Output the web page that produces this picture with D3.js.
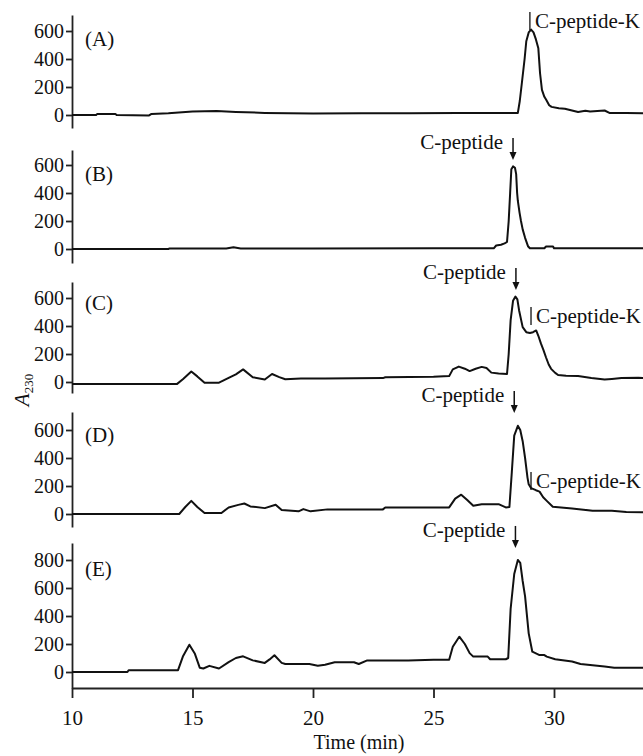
<!DOCTYPE html>
<html>
<head>
<meta charset="utf-8">
<script src="https://cdn.jsdelivr.net/npm/d3@7"></script>
<style>
  body { margin: 0; background: #fff; }
  svg { display: block; }
  text { font-family: 'Liberation Serif', 'Times New Roman', serif; fill: #111; }
</style>
</head>
<body>
<div id="app"></div>
<script>
// retention time (min) and A230 readings, one pair of arrays per run
const timeA = [10, 11, 11.05, 11.8, 11.85, 13.2, 13.3, 14, 15, 16, 16.8, 18, 20, 22, 24, 26, 28, 28.5, 28.58, 28.67, 28.78, 28.85, 28.95, 29.05, 29.15, 29.25, 29.35, 29.42, 29.5, 29.6, 29.67, 29.8, 29.9, 30.2, 30.45, 31, 31.3, 31.5, 32.1, 32.3, 33, 34]
const valA  = [0, 0, 8, 8, 0, -3, 8, 12, 25, 28, 22, 15, 10, 12, 12, 14, 15, 15, 100, 234, 400, 527, 590, 610, 590, 540, 476, 300, 180, 130, 110, 70, 58, 48, 44, 22, 30, 25, 32, 15, 14, 12]

const timeB = [10, 14, 14.05, 16.4, 16.7, 17, 20, 25, 27.5, 27.6, 27.8, 27.95, 28.05, 28.12, 28.18, 28.23, 28.3, 28.38, 28.43, 28.47, 28.5, 28.57, 28.63, 28.7, 28.8, 28.92, 29, 29.6, 29.67, 29.96, 30, 34]
const valB  = [0, 0, 4, 4, 12, 4, 4, 5, 5, 25, 30, 40, 50, 200, 400, 570, 590, 580, 535, 400, 343, 260, 200, 140, 80, 20, 5, 5, 18, 18, 5, 5]

const timeC = [10, 14.35, 14.6, 14.95, 15.2, 15.5, 16.1, 16.5, 16.8, 17.1, 17.5, 18, 18.3, 18.6, 18.85, 19.5, 20.5, 22.9, 23, 25, 25.65, 25.8, 26.05, 26.3, 26.5, 26.75, 27, 27.2, 27.4, 27.7, 28.05, 28.12, 28.2, 28.3, 28.4, 28.48, 28.55, 28.7, 28.85, 29, 29.13, 29.26, 29.35, 29.46, 29.56, 29.67, 29.78, 29.88, 30.05, 30.17, 30.5, 31, 31.55, 32.1, 32.4, 32.8, 33.5, 34]
const valC  = [-15, -15, 20, 75, 40, -5, -5, 30, 55, 90, 34, 18, 57, 35, 20, 25, 25, 28, 34, 38, 42, 90, 110, 95, 78, 95, 108, 100, 67, 60, 57, 200, 440, 580, 610, 590, 513, 392, 356, 350, 356, 368, 330, 274, 230, 175, 125, 94, 65, 50, 45, 43, 29, 18, 22, 28, 30, 28]

const timeD = [10, 14.45, 14.7, 14.95, 15.2, 15.5, 16.2, 16.5, 16.9, 17.15, 17.4, 18, 18.45, 18.7, 19.4, 19.6, 19.9, 20.6, 22.9, 23, 25.65, 25.9, 26.15, 26.4, 26.65, 27, 27.7, 28, 28.15, 28.25, 28.35, 28.5, 28.6, 28.7, 28.8, 28.9, 28.95, 29.05, 29.25, 29.4, 29.55, 29.7, 29.95, 30.75, 31.6, 32.4, 33, 34]
const valD  = [0, 0, 50, 94, 50, 7, 7, 47, 65, 75, 54, 42, 66, 28, 19, 35, 19, 33, 33, 47, 47, 110, 138, 100, 59, 70, 70, 47, 50, 300, 560, 630, 600, 520, 400, 260, 212, 185, 170, 160, 120, 94, 52, 40, 24, 24, 14, 12]

const timeE = [10, 12.3, 12.35, 14.4, 14.6, 14.87, 15.1, 15.3, 15.45, 15.7, 16.1, 16.5, 16.8, 17.1, 17.5, 18, 18.2, 18.4, 18.7, 18.85, 19.85, 20.2, 20.5, 20.9, 21.7, 21.9, 22.25, 23.95, 25, 25.65, 25.8, 26.07, 26.3, 26.5, 26.65, 27.25, 27.35, 28, 28.1, 28.2, 28.35, 28.5, 28.6, 28.7, 28.8, 28.95, 29.1, 29.4, 29.6, 29.7, 30.05, 30.75, 31.1, 31.6, 32.1, 32.5, 34]
const valE  = [0, 0, 13, 13, 110, 195, 130, 31, 25, 44, 25, 70, 100, 112, 83, 65, 90, 120, 65, 57, 57, 45, 52, 70, 70, 57, 83, 83, 88, 88, 180, 252, 200, 135, 110, 110, 91, 91, 100, 450, 700, 800, 780, 650, 540, 276, 145, 121, 121, 110, 91, 75, 57, 49, 39, 31, 31]

const panelLabels = ['(A)', '(B)', '(C)', '(D)', '(E)']
const yTicksSmall = [0, 200, 400, 600]
const yTicksE = [0, 200, 400, 600, 800]
const xTicks = [10, 15, 20, 25, 30]

// arrow "C-peptide" marks and bar "|C-peptide-K" marks: [panel, time, value at mark]
const arrowMarks = [[1, 28.3, 636], [2, 28.42, 657], [3, 28.35, 721], [4, 28.4, 886]]
const barMarks = [[0, 29.0, 607], [2, 29.15, 407], [3, 29.25, 171]]

const width = 643, height = 756
const k = 0.14 // px per absorbance unit

const svg = d3.select('#app')
    .append('svg')
    .attr('width', width)
    .attr('height', height)

const x = d3.scaleLinear()
    .domain([10, 34])
    .range([72, 72 + 24 * 24.1])

// zero line, px above zero, px below zero
const layout = [
    {zero: 115, up: 100, down: 13},
    {zero: 249, up: 99, down: 14},
    {zero: 382, up: 100, down: 11},
    {zero: 514, up: 102, down: 13},
    {zero: 672, up: 129, down: 16}
]
const labelY = [46, 181, 310, 442, 576]

const series = [
    [timeA, valA], [timeB, valB], [timeC, valC], [timeD, valD], [timeE, valE]
]

const yScales = layout.map(l => d3.scaleLinear()
    .domain([-l.down / k, l.up / k])
    .range([l.zero + l.down, l.zero - l.up]))

series.forEach((s, i) => {
    const y = yScales[i]
    const g = svg.append('g')

    const axis = d3.axisLeft(y)
        .tickValues(i === 4 ? yTicksE : yTicksSmall)
        .tickSize(6)
        .tickSizeOuter(0)
        .tickPadding(2)

    g.append('g')
        .attr('transform', 'translate(' + x(10) + ',0)')
        .call(axis)
        .call(a => a.selectAll('path, line').attr('stroke', '#222').attr('stroke-width', 1.8))
        .call(a => a.selectAll('text').style('font-size', '20px').attr('fill', '#111'))

    const pts = s[0].map((t, j) => [t, s[1][j]])
    g.append('path')
        .datum(pts)
        .attr('fill', 'none')
        .attr('stroke', '#111')
        .attr('stroke-width', 2)
        .attr('stroke-linejoin', 'round')
        .attr('d', d3.line().x(d => x(d[0])).y(d => y(d[1])))

    g.append('text')
        .attr('x', 85)
        .attr('y', labelY[i])
        .style('font-size', '21px')
        .text(panelLabels[i])
})

arrowMarks.forEach(m => {
    const ax = x(m[1]), ay = yScales[m[0]](m[2])
    svg.append('line')
        .attr('x1', ax).attr('x2', ax)
        .attr('y1', ay - 22).attr('y2', ay - 6)
        .attr('stroke', '#111').attr('stroke-width', 1.5)
    svg.append('path')
        .attr('d', 'M' + (ax - 3.5) + ',' + (ay - 8) + 'L' + (ax + 3.5) + ',' + (ay - 8) + 'L' + ax + ',' + ay + 'Z')
        .attr('fill', '#111')
    svg.append('text')
        .attr('x', ax - 10)
        .attr('y', ay - 11)
        .attr('text-anchor', 'end')
        .style('font-size', '21px')
        .text('C-peptide')
})

barMarks.forEach(m => {
    let bx = x(m[1])
    const by = yScales[m[0]](m[2])
    const t = svg.append('text')
        .attr('y', by - 2)
        .style('font-size', '21px')
        .text('C-peptide-K')
    // keep the label inside the right edge
    const len = t.node().getComputedTextLength()
    const tx = Math.min(bx + 5, width - 2 - len)
    bx = tx - 5
    t.attr('x', tx)
    svg.append('line')
        .attr('x1', bx).attr('x2', bx)
        .attr('y1', by - 18).attr('y2', by)
        .attr('stroke', '#111').attr('stroke-width', 1.3)
})

// x axis along the bottom of panel E
svg.append('g')
    .attr('transform', 'translate(0,688)')
    .call(d3.axisBottom(x).tickValues(xTicks).tickSize(10).tickSizeOuter(0).tickPadding(12))
    .call(a => a.selectAll('path, line').attr('stroke', '#222').attr('stroke-width', 1.8))
    .call(a => a.selectAll('text').style('font-size', '21px').attr('fill', '#111'))

svg.append('text')
    .attr('x', 359)
    .attr('y', 749)
    .attr('text-anchor', 'middle')
    .style('font-size', '20px')
    .text('Time (min)')

const yTitle = svg.append('text')
    .attr('transform', 'translate(29,390) rotate(-90)')
    .attr('text-anchor', 'middle')
    .style('font-size', '21px')
yTitle.append('tspan').style('font-style', 'italic').text('A')
yTitle.append('tspan').attr('dy', 4).style('font-size', '13px').text('230')
</script>
</body>
</html>
